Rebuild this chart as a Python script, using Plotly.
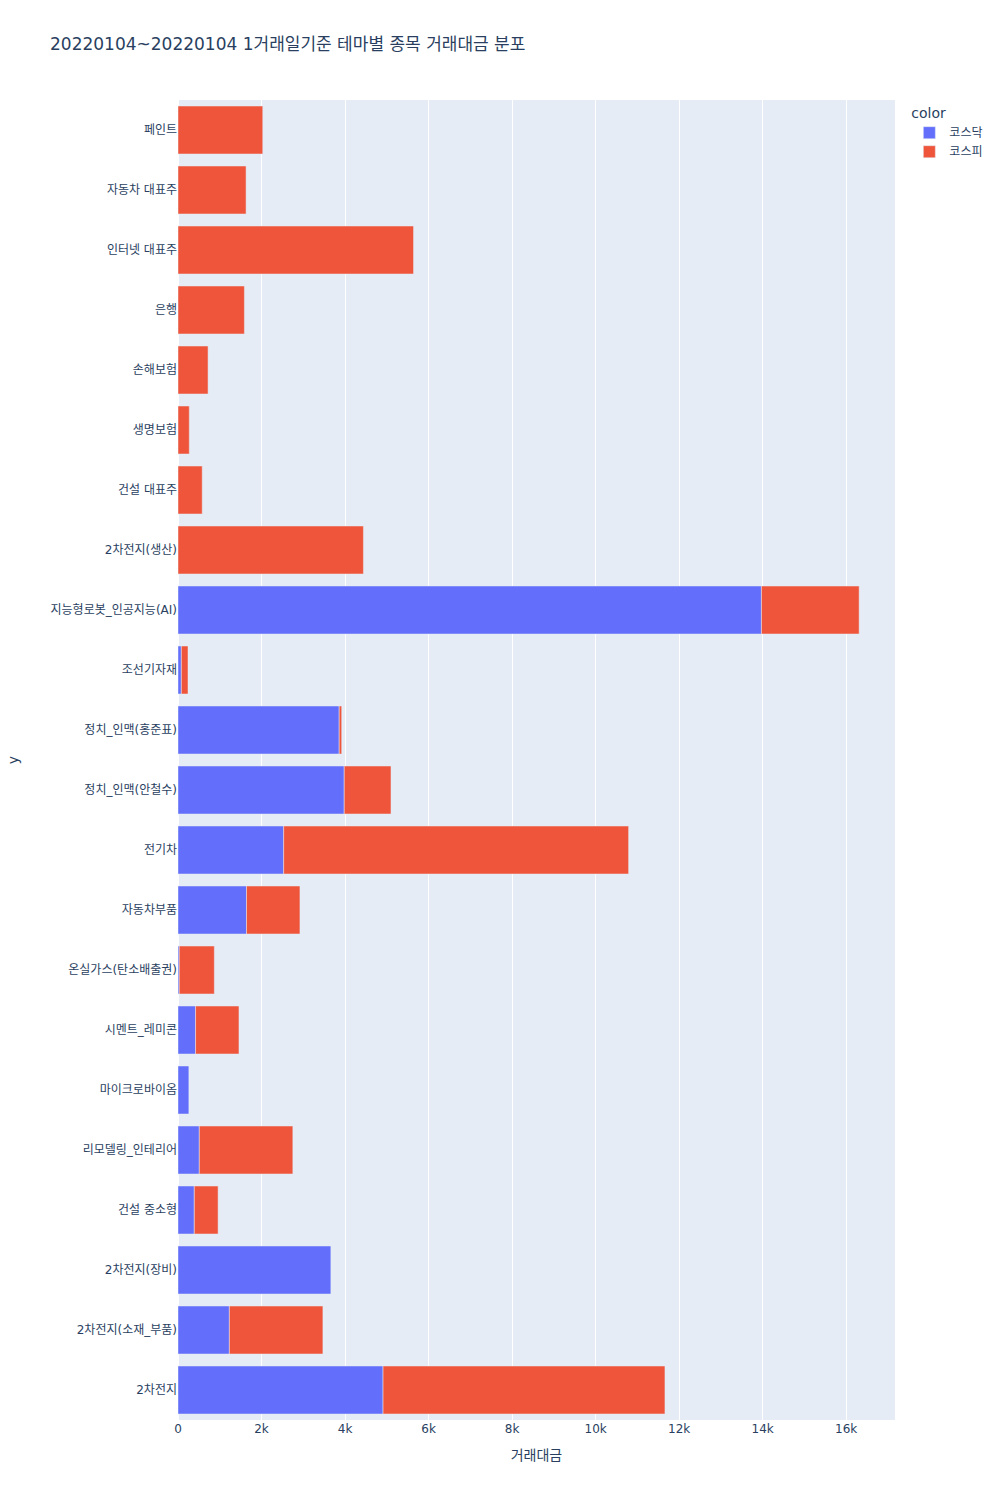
import plotly.graph_objects as go

title = "20220104~20220104 1거래일기준 테마별 종목 거래대금 분포"

# 코스닥 종목 테마별 거래대금
kosdaq_themes = [
    "2차전지", "2차전지(소재_부품)", "2차전지(장비)", "건설 중소형",
    "리모델링_인테리어", "마이크로바이옴", "시멘트_레미콘", "온실가스(탄소배출권)",
    "자동차부품", "전기차", "정치_인맥(안철수)", "정치_인맥(홍준표)",
    "조선기자재", "지능형로봇_인공지능(AI)",
]
kosdaq_values = [
    4910, 1230, 3660, 390,
    510, 260, 420, 30,
    1640, 2530, 3980, 3860,
    80, 13970,
]

# 코스피 종목 테마별 거래대금
kospi_themes = [
    "2차전지", "2차전지(소재_부품)", "건설 중소형", "리모델링_인테리어",
    "시멘트_레미콘", "온실가스(탄소배출권)", "자동차부품", "전기차",
    "정치_인맥(안철수)", "정치_인맥(홍준표)", "조선기자재", "지능형로봇_인공지능(AI)",
    "2차전지(생산)", "건설 대표주", "생명보험", "손해보험",
    "은행", "인터넷 대표주", "자동차 대표주", "페인트",
]
kospi_values = [
    6750, 2240, 570, 2240,
    1040, 840, 1280, 8260,
    1120, 60, 160, 2340,
    4440, 580, 270, 720,
    1590, 5640, 1630, 2030,
]

fig = go.Figure()

fig.add_trace(
    go.Bar(
        x=kosdaq_values,
        y=kosdaq_themes,
        orientation="h",
        name="코스닥",
        marker={"color": "#636efa"},
        legendgroup="코스닥",
    )
)

fig.add_trace(
    go.Bar(
        x=kospi_values,
        y=kospi_themes,
        orientation="h",
        name="코스피",
        marker={"color": "#EF553B"},
        legendgroup="코스피",
    )
)

fig.update_layout(
    template="plotly",
    title={"text": title},
    barmode="relative",
    width=1000,
    height=1500,
    margin={"l": 178, "r": 83},
    font={"family": "Verdana, DejaVu Sans, Noto Sans CJK KR, sans-serif"},
    legend={"title": {"text": "color"}, "tracegroupgap": 0},
    xaxis={"title": {"text": "거래대금"}},
    yaxis={"title": {"text": "y", "standoff": 28}},
)

# 페이지 기본 여백 제거
fig.write_html(
    "out.html",
    config={"displayModeBar": False},
    post_script="document.body.style.margin = '0';",
)
